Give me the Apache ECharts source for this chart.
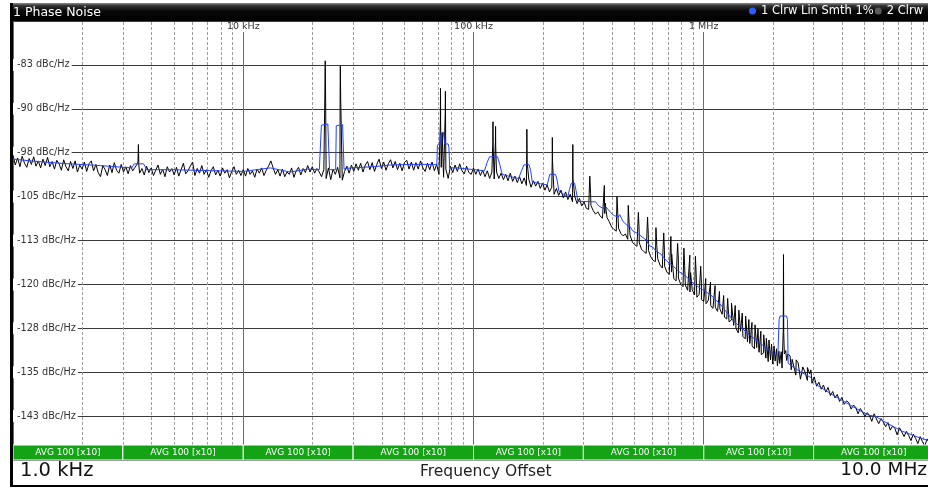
<!DOCTYPE html>
<html><head><meta charset="utf-8">
<script src="https://cdn.jsdelivr.net/npm/echarts@6/dist/echarts.min.js"></script>
<style>html,body{margin:0;padding:0;background:#fff;overflow:hidden;width:928px;height:488px}#chart{width:936px;height:488px}</style>
</head><body><div id="chart"></div>
<script>
// ---------------- DATA ----------------
const series1Name = '1 Clrw Lin Smth 1%';
const series2Name = '2 Clrw';
const titleText = '1 Phase Noise';
const startLabel = '1.0 kHz';
const axisName = 'Frequency Offset';
const stopLabel = '10.0 MHz';
const avgLabel = 'AVG 100 [x10]';

const xTickValues = [10, 100, 1000];              // kHz
const xTickLabels = ['10 kHz', '100 kHz', '1 MHz'];
const yTickValues = [-82.5, -90, -97.5, -105, -112.5, -120, -127.5, -135, -142.5];
const yTickLabels = ['-83 dBc/Hz', '-90 dBc/Hz', '-98 dBc/Hz', '-105 dBc/Hz', '-113 dBc/Hz',
                     '-120 dBc/Hz', '-128 dBc/Hz', '-135 dBc/Hz', '-143 dBc/Hz'];
const minorGridKHz = [2,3,4,5,6,7,8,9,20,30,40,50,60,70,80,90,200,300,400,500,600,700,800,900,
                      2000,3000,4000,5000,6000,7000,8000,9000];
const bandEdgesKHz = [1, 3, 10, 30, 100, 300, 1000, 3000, 10000];

// sweep grid: mantissas within one decade
const sweepMantissa = [1.000,1.023,1.047,1.072,1.096,1.122,1.148,1.175,1.202,1.230,
1.259,1.288,1.318,1.349,1.380,1.413,1.445,1.479,1.514,1.549,
1.585,1.622,1.660,1.698,1.738,1.778,1.820,1.862,1.905,1.950,
1.995,2.042,2.089,2.138,2.188,2.239,2.291,2.344,2.399,2.455,
2.512,2.570,2.630,2.692,2.754,2.818,2.884,2.951,3.020,3.090,
3.162,3.236,3.311,3.388,3.467,3.548,3.631,3.715,3.802,3.890,
3.981,4.074,4.169,4.266,4.365,4.467,4.571,4.677,4.786,4.898,
5.012,5.129,5.248,5.370,5.495,5.623,5.754,5.888,6.026,6.166,
6.310,6.457,6.607,6.761,6.918,7.079,7.244,7.413,7.586,7.762,
7.943,8.128,8.318,8.511,8.710,8.913,9.120,9.333,9.550,9.772];
const decadeStartKHz = [1, 10, 100, 1000];

// trace 2 (Clrw) dBc/Hz, decade 1 kHz - 10 kHz
const trace2Dec1 = [-97.9,-99.6,-98.4,-99.9,-98.1,-99.3,-100.0,-98.5,-99.5,-98.2,
-99.8,-98.9,-100.1,-98.6,-99.7,-98.3,-99.9,-99.0,-100.3,-98.8,
-99.4,-100.5,-98.7,-99.9,-100.6,-99.0,-100.2,-98.9,-100.8,-99.6,
-100.3,-99.1,-100.7,-99.4,-98.9,-100.6,-99.5,-100.9,-101.6,-99.7,
-100.4,-101.4,-99.6,-100.9,-99.2,-100.5,-101.0,-99.5,-100.8,-99.9,
-101.1,-99.7,-100.6,-100.0,-99.4,-101.0,-100.2,-101.3,-99.8,-100.9,
-100.1,-101.4,-100.5,-99.6,-101.2,-100.3,-101.6,-99.9,-100.8,-100.2,
-101.3,-100.0,-101.5,-100.4,-99.3,-101.1,-100.6,-99.8,-99.1,-101.4,
-100.2,-101.0,-99.7,-101.2,-100.4,-101.7,-100.6,-99.9,-101.3,-100.5,
-101.5,-100.1,-101.0,-100.4,-101.8,-100.7,-99.9,-101.2,-100.5,-101.4];
// 10 kHz - 100 kHz
const trace2Dec2 = [-100.4,-101.5,-100.2,-101.2,-100.6,-101.7,-100.3,-101.0,-100.1,-101.4,
-100.5,-99.8,-98.9,-100.1,-101.2,-100.4,-101.5,-100.3,-101.6,-100.8,
-101.2,-100.1,-101.7,-100.6,-100.0,-101.3,-100.2,-100.9,-99.7,-100.8,
-99.9,-101.0,-100.2,-100.8,-101.6,-100.4,-101.9,-100.1,-102.1,-100.3,
-101.2,-100.0,-101.8,-102.2,-100.7,-99.8,-101.0,-99.6,-100.7,-99.4,
-100.5,-99.3,-100.8,-99.6,-99.0,-100.4,-99.2,-100.7,-99.5,-98.6,
-100.2,-99.1,-100.5,-99.4,-98.7,-100.1,-99.0,-100.4,-99.3,-100.6,
-99.2,-98.8,-100.3,-99.1,-100.5,-99.2,-100.3,-98.9,-100.1,-100.7,
-99.3,-100.4,-99.1,-100.6,-99.5,-101.2,-100.0,-101.7,-100.3,-101.9,
-99.8,-100.9,-99.6,-100.7,-99.4,-100.6,-101.1,-99.8,-100.9,-101.2];
// 100 kHz - 1 MHz
const trace2Dec3 = [-100.1,-101.2,-100.3,-101.4,-100.5,-101.6,-100.6,-101.9,-100.8,-102.0,
-100.8,-101.9,-101.0,-102.1,-101.2,-102.3,-101.0,-102.4,-101.5,-102.6,
-101.6,-102.8,-101.8,-103.1,-102.0,-103.4,-102.3,-103.2,-102.4,-103.6,
-102.7,-103.9,-103.0,-104.2,-103.4,-104.6,-103.6,-104.8,-103.9,-105.2,
-104.2,-105.5,-104.6,-105.9,-105.0,-106.2,-105.3,-106.6,-105.9,-107.0,
-107.2,-106.5,-107.4,-108.0,-107.6,-108.3,-108.7,-107.9,-108.6,-109.3,
-110.2,-110.6,-110.9,-110.4,-111.3,-111.7,-111.4,-112.3,-111.6,-112.8,
-113.2,-113.5,-112.9,-114.0,-114.4,-114.7,-114.2,-115.3,-115.9,-116.1,
-115.6,-116.7,-117.2,-116.9,-117.9,-118.3,-117.9,-119.0,-119.4,-118.9,
-120.0,-120.4,-120.1,-121.0,-121.3,-120.9,-121.8,-122.2,-121.7,-122.6];
// 1 MHz - 10 MHz
const trace2Dec4 = [-122.9,-123.3,-122.7,-123.6,-124.1,-123.9,-124.6,-124.2,-125.1,-125.6,
-125.9,-126.4,-126.1,-127.0,-127.5,-128.3,-128.0,-128.9,-129.3,-129.8,
-130.1,-130.5,-131.0,-130.8,-131.6,-132.0,-131.7,-132.6,-133.2,-132.9,
-133.6,-133.1,-133.9,-133.5,-134.3,-131.9,-133.0,-132.2,-134.6,-132.8,
-135.5,-133.4,-136.2,-134.1,-135.0,-136.4,-135.3,-136.9,-135.8,-137.4,
-136.7,-137.9,-137.2,-138.4,-137.6,-139.0,-138.3,-139.4,-138.8,-140.0,
-139.3,-140.5,-139.9,-140.2,-141.3,-140.6,-141.0,-142.1,-141.2,-141.8,
-142.6,-141.9,-142.4,-143.4,-142.1,-143.0,-143.8,-142.9,-143.5,-144.3,
-143.6,-144.9,-144.2,-144.6,-145.7,-144.5,-145.2,-146.0,-145.1,-145.8,
-146.7,-145.6,-146.3,-147.2,-146.0,-146.9,-147.6,-146.4,-147.1,-147.9];

// trace 2 spurs and extra points [kHz, dBc/Hz]
const trace2Spurs = [
[3.49,-99.0],[3.505,-96.1],[3.52,-99.6],
[22.6,-88.5],[22.7,-81.8],[22.8,-89.0],
[26.35,-87.6],[26.4,-82.7],[26.5,-88.2],
[71.8,-92.2],[71.9,-86.5],[72.0,-92.6],
[73.1,-94.1],
[75.4,-90.5],[75.5,-87.0],[75.6,-91.2],
[121.3,-95.8],[121.5,-92.2],[121.7,-96.2],
[124.5,-95.6],[124.7,-93.0],[124.9,-96.5],
[170.3,-97.0],[170.5,-93.5],[170.8,-96.8],[171.1,-99.2],
[219.8,-98.4],[220.0,-94.9],[220.3,-98.8],
[269.8,-101.5],[270.0,-96.1],[270.3,-101.9],
[320,-101.5],[322.5,-104.5],[370,-103.1],[373,-106.1],[420,-105.0],[423.5,-108.0],
[470,-106.5],[474,-109.5],[520,-107.7],[524,-110.7],[570,-108.5],[574.5,-111.5],
[620,-110.3],[625,-113.3],[670,-111.2],[675,-114.2],[720,-111.8],[725.5,-114.8],
[770,-113.0],[776,-116.0],[820,-113.8],[826,-116.8],[870,-115.0],[876.5,-118.0],
[920,-115.2],[927,-118.2],[970,-116.9],[977,-119.9],
[1020,-119.0],[1070,-119.6],[1120,-120.2],[1170,-121.2],[1220,-121.9],[1270,-122.4],[1320,-123.2],
[1370,-123.6],[1420,-124.4],[1470,-124.9],[1520,-125.4],[1570,-126.0],[1620,-126.5],[1670,-126.9],
[1720,-127.6],[1770,-128.0],[1821,-128.6],[1870,-129.2],[1920,-129.5],[1970,-130.2],[2020,-130.5],
[2070,-131.0],[2120,-131.4],[2170,-131.5],
[2215,-127.8],[2220,-114.9],[2225,-128.2],
[2270,-131.3],[2320,-131.9],[2370,-132.2],[2420,-132.8],[2520,-132.9],[2620,-133.4],[2720,-134.0],
[2820,-134.2],[2920,-134.6],
[10000,-147.3]
];

// trace 1 (Clrw Lin Smth 1%) [kHz, dBc/Hz]
const trace1Points = [
[1.00,-98.6],[1.19,-98.9],[1.60,-99.3],[2.39,-99.7],[3.28,-100.1],[3.36,-99.4],[3.69,-99.4],[3.81,-100.4],
[4.82,-100.4],[6.06,-100.5],[7.94,-100.6],[10.0,-100.7],[11.4,-100.4],[13.1,-100.1],[16.0,-100.8],
[19.0,-100.3],[21.4,-100.4],[21.7,-100.3],[21.85,-92.8],[22.0,-92.6],[23.3,-92.6],[23.5,-92.9],[23.7,-100.4],
[25.2,-100.4],[25.35,-92.9],[25.5,-92.7],[27.0,-92.7],[27.2,-93.0],[27.4,-100.3],[29.2,-100.1],
[36.8,-99.9],[43.6,-99.6],[53.2,-99.5],[67.0,-99.5],[69.3,-99.6],[69.7,-96.2],[71.5,-96.0],[72.4,-94.2],
[74.0,-94.0],[75.0,-96.0],[77.6,-96.0],[78.2,-96.6],[78.8,-100.1],[85.2,-100.1],[101,-100.4],
[111.6,-100.6],[112.8,-100.5],[114.5,-99.2],[117.4,-98.2],[127.2,-98.2],[130,-99.5],[133.3,-101.2],
[144.8,-101.6],[156.9,-101.9],[159,-102.1],[162,-100.5],[165.5,-99.6],[174,-99.5],[177,-100.5],[180,-102.5],
[195.6,-102.8],[209,-103.0],[214.6,-101.2],[227.2,-101.2],[231,-102.3],[234.9,-104.1],[243.8,-104.5],
[257,-105.0],[261,-103.8],[266,-102.7],[274.9,-102.7],[279,-104.0],[284,-105.8],
[339,-105.9],[350,-106.6],[365,-107.0],[375,-106.7],[390,-107.5],[406,-108.2],[425,-108.5],[432,-108.1],
[445,-109.2],[467,-110.0],[480,-110.2],[490,-110.8],[520,-111.4],[530,-111.2],[545,-112.0],[565,-112.5],
[580,-113.4],[600,-113.6],[620,-114.3],[650,-114.8],[690,-116.0],[733,-116.8],[780,-117.8],[835,-118.6],
[900,-119.8],[970,-120.7],[1072,-121.8],[1186,-123.5],[1350,-126.3],[1601,-128.8],[1898,-131.1],
[2097,-132.3],[2110,-132.4],[2125,-126.0],[2145,-125.4],[2290,-125.4],[2310,-126.0],[2326,-133.5],
[2641,-135.0],[2919,-135.9],[3131,-137.3],[3675,-139.0],[4357,-140.7],[5164,-142.3],[5595,-142.6],
[6061,-143.4],[7186,-145.0],[8518,-146.1],[10000,-147.0]
];

// ---------------- BUILD ----------------
const trace2 = [];
[trace2Dec1, trace2Dec2, trace2Dec3, trace2Dec4].forEach(function (arr, d) {
  arr.forEach(function (v, i) { trace2.push([sweepMantissa[i] * decadeStartKHz[d], v]); });
});
trace2Spurs.forEach(function (p) { trace2.push(p); });
trace2.sort(function (a, b) { return a[0] - b[0]; });

const FONT = 'DejaVu Sans';
const bandTopDb = -147.44;
const bandData = [];
for (let i = 0; i < bandEdgesKHz.length - 1; i++) {
  bandData.push([{ name: avgLabel, xAxis: bandEdgesKHz[i], yAxis: -150 },
                 { xAxis: bandEdgesKHz[i + 1], yAxis: bandTopDb }]);
}

const chart = echarts.init(document.getElementById('chart'), null, { renderer: 'canvas' });
chart.setOption({
  animation: false,
  backgroundColor: '#fff',
  textStyle: { fontFamily: FONT },
  grid: { left: 13, top: 21, width: 921, height: 439, containLabel: false },
  title: [
    { text: titleText, left: 13, top: 6, padding: 0,
      textStyle: { color: '#fff', fontSize: 12.5, fontWeight: 'normal', fontFamily: FONT } },
    { text: startLabel, left: 20, top: 461, padding: 0,
      textStyle: { color: '#111', fontSize: 19.5, fontWeight: 'normal', fontFamily: FONT } },
    { text: axisName, left: 420, top: 464, padding: 0,
      textStyle: { color: '#222', fontSize: 15.5, fontWeight: 'normal', fontFamily: FONT } },
    { text: stopLabel, right: 9, top: 461, padding: 0,
      textStyle: { color: '#111', fontSize: 18.5, fontWeight: 'normal', fontFamily: FONT } }
  ],
  legend: {
    left: 749, top: 5, itemWidth: 7, itemHeight: 7, itemGap: 1, icon: 'circle', padding: 0,
    selectedMode: false,
    textStyle: { color: '#fff', fontSize: 11.5, fontFamily: FONT },
    data: [ { name: series1Name, itemStyle: { color: '#2a5cff' } },
            { name: series2Name, itemStyle: { color: '#5a5a5a' } } ]
  },
  xAxis: {
    type: 'log', logBase: 10, min: 1, max: 10000, position: 'top',
    axisLine: { show: false }, axisTick: { show: false },
    splitLine: { show: true, lineStyle: { color: '#6a6a6a', width: 1 } },
    axisLabel: {
      inside: true, margin: 1, showMinLabel: false, showMaxLabel: false,
      color: '#333', fontSize: 9.5, fontFamily: FONT, lineHeight: 10,
      backgroundColor: '#fff', padding: [0, 2, 0, 2],
      formatter: function (v) {
        for (let i = 0; i < xTickValues.length; i++) {
          if (Math.abs(Math.log10(v) - Math.log10(xTickValues[i])) < 1e-6) return xTickLabels[i];
        }
        return '';
      }
    }
  },
  yAxis: {
    type: 'value', min: -150, max: -75, interval: 7.5,
    axisLine: { show: false }, axisTick: { show: false },
    splitLine: { show: true, lineStyle: { color: '#3a3a3a', width: 1 } },
    axisLabel: {
      inside: true, margin: 0, showMinLabel: false, showMaxLabel: false,
      color: '#333', fontSize: 9.7, fontFamily: FONT,
      backgroundColor: '#fff', padding: [1, 2, 1, 4],
      formatter: function (v) {
        for (let i = 0; i < yTickValues.length; i++) {
          if (Math.abs(yTickValues[i] - v) < 1e-6) return yTickLabels[i];
        }
        return '';
      }
    }
  },
  graphic: [
    { type: 'rect', z: 3, silent: true, shape: { x: 10, y: 3, width: 930, height: 18 },
      style: { fill: new echarts.graphic.LinearGradient(0, 0, 0, 1, [
        { offset: 0, color: '#8a8a8a' }, { offset: 0.15, color: '#333' },
        { offset: 0.45, color: '#080808' }, { offset: 1, color: '#000' }]) } },
    { type: 'rect', z: 50, silent: true, shape: { x: 10, y: 3, width: 3, height: 484 }, style: { fill: '#000' } },
    { type: 'rect', z: 50, silent: true, shape: { x: 10, y: 485, width: 930, height: 2 }, style: { fill: '#000' } }
  ],
  series: [
    {
      name: series2Name, type: 'line', data: trace2, symbol: 'none', z: 3,
      lineStyle: { color: '#000', width: 1 }, itemStyle: { color: '#000' },
      markLine: {
        silent: true, symbol: ['none', 'none'], z: 1, animation: false,
        label: { show: false },
        lineStyle: { color: '#9a9a9a', type: [3, 2], width: 1 },
        data: minorGridKHz.map(function (v) { return { xAxis: v }; })
      },
      markArea: {
        silent: true, z: 10, animation: false,
        itemStyle: { color: '#14a314', opacity: 1, borderColor: '#fff', borderWidth: 1 },
        label: { show: true, position: 'inside', color: '#fff', fontSize: 9, fontFamily: FONT },
        data: bandData
      }
    },
    {
      name: series1Name, type: 'line', data: trace1Points, symbol: 'none', z: 4,
      lineStyle: { color: '#2440ff', width: 1 }, itemStyle: { color: '#2440ff' }
    }
  ]
});
</script></body></html>
